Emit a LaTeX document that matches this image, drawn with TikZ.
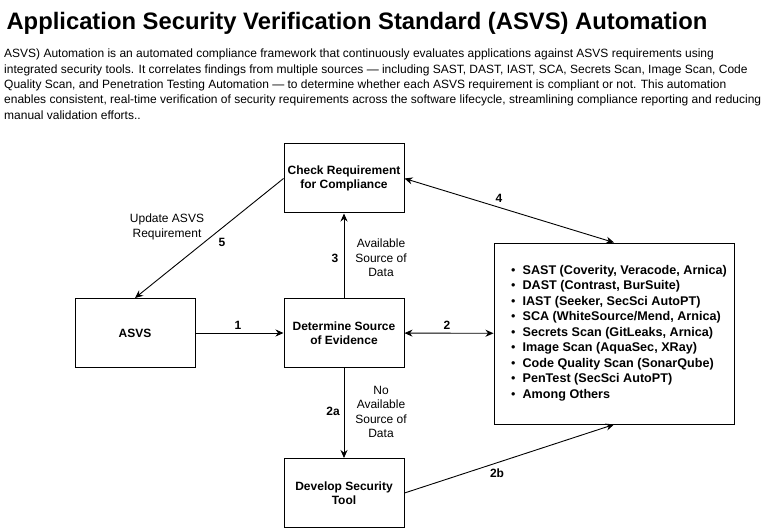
\documentclass[tikz,border=0pt]{standalone}
\usepackage{fontspec}
\setmainfont{Liberation Sans}
\usetikzlibrary{positioning,arrows.meta}

\tikzset{
  box/.style={draw,line width=1pt,minimum width=120pt,minimum height=69pt,align=center,font=\fontsize{12}{14}\selectfont\bfseries},
  num/.style={font=\fontsize{12}{14}\selectfont\bfseries},
  note/.style={align=center,font=\fontsize{12}{14.5}\selectfont},
  link/.style={draw,line width=0.9pt,-{Stealth[length=8pt,width=7pt]}},
  both/.style={draw,line width=0.9pt,{Stealth[length=8pt,width=7pt]}-{Stealth[length=8pt,width=7pt]}}
}

\begin{document}
\begin{tikzpicture}[x=1pt,y=-1pt]
\useasboundingbox (0,0) rectangle (767,529);

\node[anchor=base west,font=\fontsize{23.8}{28}\selectfont\bfseries] (title) at (3,30)
  {Application Security Verification Standard (ASVS) Automation};
\node[anchor=north west,align=left,inner sep=0pt,font=\fontsize{12}{15.3}\selectfont] (intro) at (4,49)
  {ASVS) Automation is an automated compliance framework that continuously evaluates applications against ASVS requirements using\\
   integrated security tools. It correlates findings from multiple sources — including SAST, DAST, IAST, SCA, Secrets Scan, Image Scan, Code\\
   Quality Scan, and Penetration Testing Automation — to determine whether each ASVS requirement is compliant or not. This automation\\
   enables consistent, real-time verification of security requirements across the software lifecycle, streamlining compliance reporting and reducing\\
   manual validation efforts..};

\node[box] (check) at (344,178.5) {Check Requirement\\for Compliance};
\node[box] (determine) at (344,333) {Determine Source\\of Evidence};
\node[box] (asvs) at (135,333) {ASVS};
\node[box] (develop) at (344,493) {Develop Security\\Tool};
\node[draw,line width=1pt,minimum width=240pt,minimum height=181pt] (tools) at (614,333.5) {};

\foreach \tool [count=\i from 0] in {{SAST (Coverity, Veracode, Arnica)},{DAST (Contrast, BurSuite)},
    {IAST (Seeker, SecSci AutoPT)},{SCA (WhiteSource/Mend, Arnica)},{Secrets Scan (GitLeaks, Arnica)},
    {Image Scan (AquaSec, XRay)},{Code Quality Scan (SonarQube)},{PenTest (SecSci AutoPT)},{Among Others}}
  \node[anchor=west,inner sep=0pt,font=\fontsize{12.6}{14}\selectfont] (tool\i) at (511,271+15.5*\i)
    {\textbullet\hspace{7pt}\textbf{\tool}};

\draw[link] (asvs) -- (determine);
\draw[both] (determine) -- (tools);
\draw[link] (determine) -- (check);
\draw[both] (check.east) -- (tools.north);
\draw[link] (check.west) -- (asvs.north);
\draw[link] (determine) -- (develop);
\draw[link] (develop.east) -- (tools.south);

\node[num] (n1) at (238,325) {1};
\node[num] (n2) at (447,325) {2};
\node[num] (n3) at (335,258) {3};
\node[note] (avail) at (381,258) {Available\\Source of\\Data};
\node[num] (n4) at (499,198) {4};
\node[num] (n5) at (222,242) {5};
\node[note] (update) at (167,227) {Update ASVS\\Requirement};
\node[num] (n2a) at (333,411) {2a};
\node[note] (noavail) at (381,412) {No\\Available\\Source of\\Data};
\node[num] (n2b) at (497,473) {2b};
\end{tikzpicture}
\end{document}
